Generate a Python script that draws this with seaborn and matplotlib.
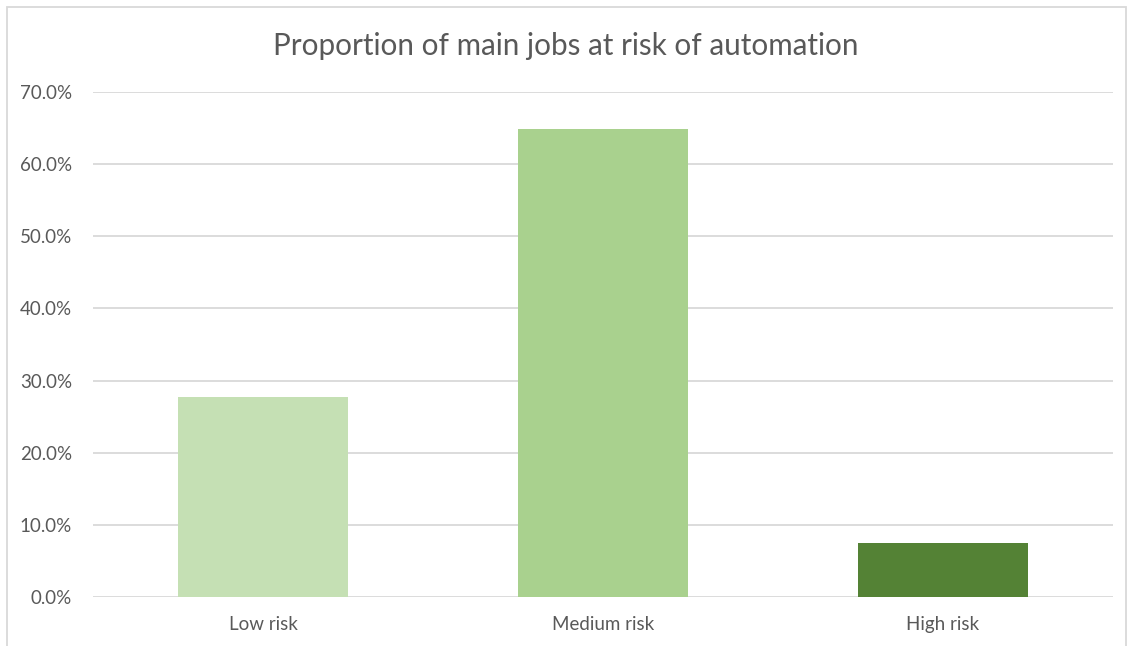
import matplotlib
matplotlib.use("Agg")
import matplotlib.pyplot as plt
import seaborn as sns
import pandas as pd
from matplotlib.ticker import FuncFormatter, MultipleLocator
from matplotlib.patches import Rectangle

categories = ["Low risk", "Medium risk", "High risk"]
values = [27.7, 64.9, 7.5]
colors = ["#C5E0B4", "#A9D18E", "#548235"]
title = "Proportion of main jobs at risk of automation"

sns.set_theme(style="white")
plt.rcParams['font.family'] = ['Lato', 'DejaVu Sans']

df = pd.DataFrame({"cat": categories, "val": values})

fig = plt.figure(figsize=(11.32, 6.46), dpi=100)
ax = fig.add_axes([93/1132, 1-597/646, (1113-93)/1132, (597-92)/646])

sns.barplot(data=df, x="cat", y="val", hue="cat", palette=colors, legend=False,
            width=0.5, saturation=1, ax=ax, zorder=3, edgecolor="none", linewidth=0)

ax.set_ylim(0, 70)
ax.set_xlim(-0.5, 2.5)
ax.yaxis.set_major_locator(MultipleLocator(10))
ax.yaxis.set_major_formatter(FuncFormatter(lambda v, p: f"{v:.1f}%"))
ax.grid(axis="y", color="#D9D9D9", linewidth=1.3, zorder=0)
for s in ax.spines.values():
    s.set_visible(False)
ax.set_xlabel("")
ax.set_ylabel("")
ax.tick_params(axis="both", length=0, labelsize=13.5, labelcolor="#595959")
ax.tick_params(axis="y", pad=15)
ax.tick_params(axis="x", pad=14)

fig.text(0.5, 1-46/646, title, ha="center", va="center", fontsize=21.3, color="#595959")

fig.patches.append(Rectangle((7/1132, -0.1), (1126-7)/1132, 1.1 - 7/646,
                             transform=fig.transFigure, fill=False,
                             edgecolor="#D9D9D9", linewidth=1.3))

fig.savefig("out.png", dpi=100, facecolor="white")
